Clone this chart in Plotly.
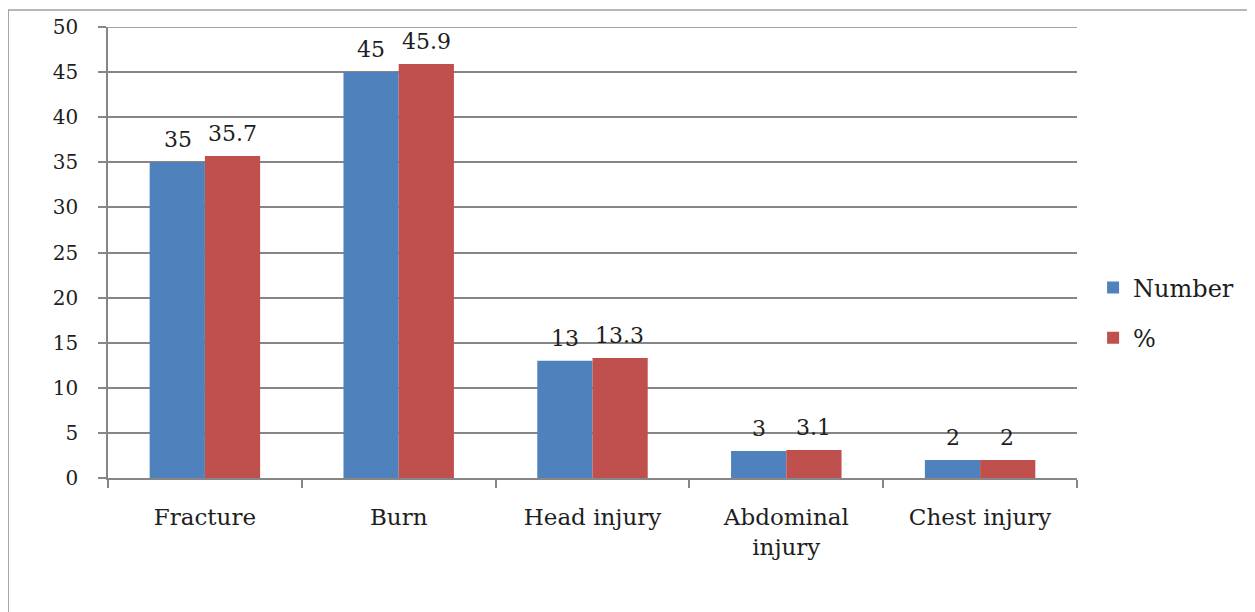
import plotly.graph_objects as go

categories = ["Fracture", "Burn", "Head injury", "Abdominal<br>injury", "Chest injury"]
number_vals = [35, 45, 13, 3, 2]
pct_vals = [35.7, 45.9, 13.3, 3.1, 2]
number_text = ["35", "45", "13", "3", "2"]
pct_text = ["35.7", "45.9", "13.3", "3.1", "2"]
y_ticks = [0, 5, 10, 15, 20, 25, 30, 35, 40, 45, 50]

FONT = "DejaVu Serif"
TXT = "#1e1e1e"
GRID = "#868686"

fig = go.Figure()
fig.add_trace(go.Bar(name="Number", x=categories, y=number_vals,
                     legendgroup="a", marker=dict(color="#4F81BD", line=dict(width=0))))
fig.add_trace(go.Bar(name="%", x=categories, y=pct_vals,
                     legendgroup="b", marker=dict(color="#C0504D", line=dict(width=0))))

# data labels above each bar (half bar width either side of category center)
half = 961 / 5 * (1 - 0.43) / 4
for c, v, t in zip(categories, number_vals, number_text):
    fig.add_annotation(x=c, y=v, text=t, showarrow=False, xshift=-half, yshift=8,
                       yanchor="bottom", font=dict(family=FONT, size=22, color=TXT))
for c, v, t in zip(categories, pct_vals, pct_text):
    fig.add_annotation(x=c, y=v, text=t, showarrow=False, xshift=half, yshift=8,
                       yanchor="bottom", font=dict(family=FONT, size=22, color=TXT))

# page has an 8px body margin, so the figure is sized/offset to compensate
fig.update_layout(
    width=1247, height=604,
    margin=dict(l=100, r=178, t=19, b=134, autoexpand=False),
    paper_bgcolor="white", plot_bgcolor="white",
    barmode="group", bargap=0.43, bargroupgap=0,
    font=dict(family=FONT, size=22, color=TXT),
    showlegend=True,
    legend=dict(x=1.0166, y=0.366, xanchor="left", yanchor="middle",
                font=dict(family=FONT, size=24, color=TXT),
                tracegroupgap=16, itemwidth=30),
)
fig.update_xaxes(showline=True, linecolor=GRID, linewidth=1.5, automargin=False,
                 ticks="outside", tickson="boundaries", ticklen=8,
                 tickcolor=GRID, tickwidth=1.5, ticklabelstandoff=18,
                 tickfont=dict(family=FONT, size=23, color=TXT),
                 showgrid=False)
fig.update_yaxes(range=[0, 50], tickvals=y_ticks, showline=True, automargin=False,
                 linecolor=GRID, linewidth=1.5,
                 ticks="outside", ticklen=8, tickcolor=GRID, tickwidth=1.5,
                 showgrid=True, gridcolor=GRID, gridwidth=1.5,
                 zeroline=False, ticklabelstandoff=16,
                 tickfont=dict(family=FONT, size=20, color=TXT))

# top gridline at the axis maximum
fig.add_shape(type="line", xref="paper", yref="y", x0=0, x1=1,
              y0=y_ticks[-1], y1=y_ticks[-1], line=dict(color=GRID, width=1.5))

fig.add_shape(type="rect", xref="paper", yref="paper",
              x0=-99/961, x1=1.3, y0=-0.5, y1=1 + 17/451,
              line=dict(color="#A0A0A0", width=1.5), fillcolor="rgba(0,0,0,0)",
              layer="below")

fig.write_html("out.html")
